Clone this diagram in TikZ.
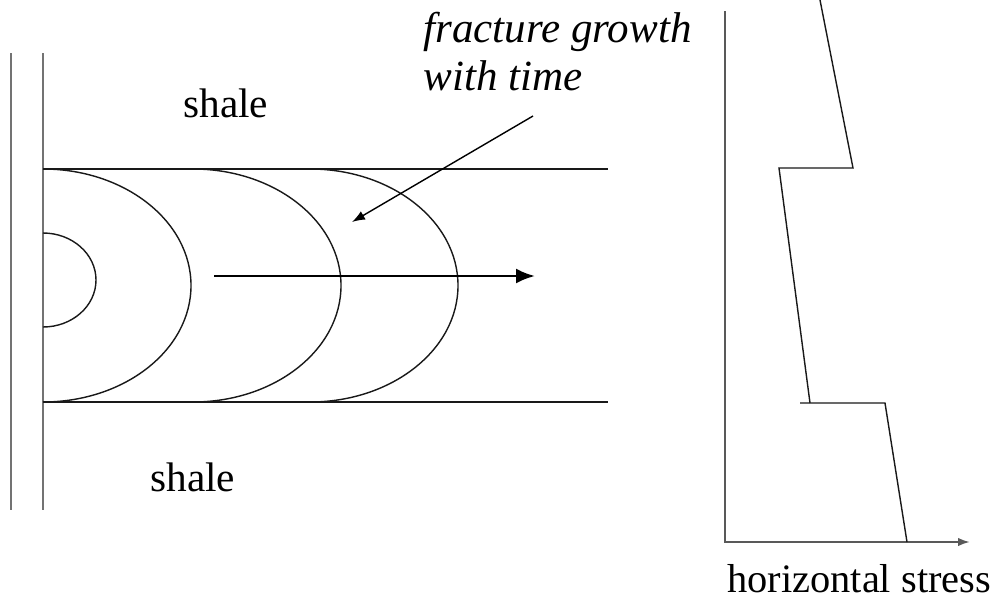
\documentclass[tikz,border=0pt]{standalone}
\usepackage{fontspec}
\setmainfont{Liberation Serif}
\usetikzlibrary{arrows.meta}

\begin{document}
\begin{tikzpicture}[
    x=0.02cm, y=-0.02cm,
    edge/.style={line width=0.8pt, black!90},
    well/.style={line width=1.1pt, black!55},
    axis/.style={line width=1.2pt, black!65},
    arr/.style={-{Latex[length=3.8mm, width=3mm]}, line width=1.5pt},
    thinarr/.style={-{Latex[length=2.6mm, width=1.9mm]}, line width=0.8pt},
    lbl/.style={inner sep=0pt, anchor=base west, font=\fontsize{23.5}{28}\selectfont},
    note/.style={inner sep=0pt, anchor=base west, align=left, font=\fontsize{24.5}{26.8}\selectfont\itshape}
]
\path[use as bounding box] (0,0) rectangle (1001,599);

% wellbore
\draw[well] (11,53) -- (11,510);
\draw[well] (43,53) -- (43,510);

% layer boundaries
\coordinate (topl) at (43,169);
\coordinate (botl) at (43,402);
\draw[edge] (topl) -- (608,169);
\draw[edge] (botl) -- (608,402);

% fracture fronts
\draw[edge] (43,233) arc[start angle=-90, end angle=90, x radius=53, y radius=47];
\foreach \xs in {43,193,310}
  \draw[edge] (\xs,169) arc[start angle=-90, end angle=90, x radius=148, y radius=116.5];

% growth direction
\coordinate (grows) at (214,276);
\coordinate (growe) at (535,276);
\draw[arr] (grows) -- (growe);

% labels
\node[lbl] (shtop) at (183,117) {shale};
\node[lbl] (shbot) at (150,491) {shale};
\node[note] (frac) at (423,90) {fracture growth\\with time};
\coordinate (fractail) at (533,116);
\coordinate (fractip) at (352,222);
\draw[thinarr] (fractail) -- (fractip);

% stress profile
\coordinate (orig) at (725,542);
\draw[axis, -{Latex[length=2.4mm, width=1.7mm]}] (725,11) -- (orig) -- (970,542);
\draw[edge] (820,0) -- (853,168) -- (779,168) -- (810,403);
\draw[edge] (800,403) -- (885,403) -- (907,542);
\node[lbl, font=\fontsize{23}{28}\selectfont] (hstress) at (727,592) {horizontal stress};
\end{tikzpicture}
\end{document}
